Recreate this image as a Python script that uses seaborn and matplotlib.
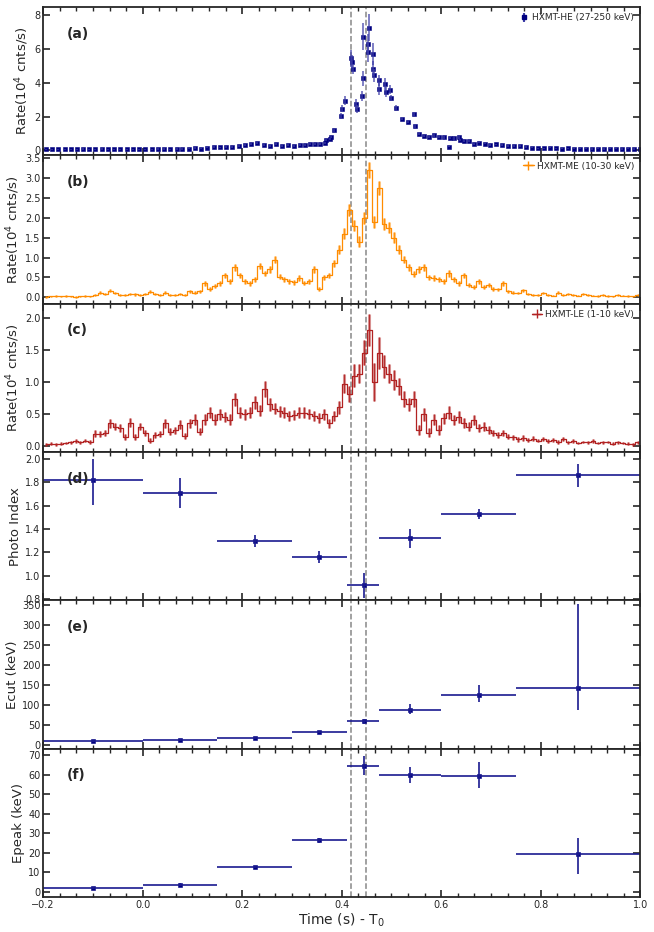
import matplotlib
matplotlib.use("Agg")
import matplotlib.pyplot as plt
import numpy as np
import pandas as pd
import seaborn as sns
from matplotlib.ticker import AutoMinorLocator, MultipleLocator

# ---- HXMT-HE (27-250 keV), points with errors ----
he_t = [-0.195, -0.182, -0.170, -0.157, -0.145, -0.132, -0.120, -0.107, -0.095, -0.082,
        -0.070, -0.057, -0.045, -0.032, -0.020, -0.007, 0.005, 0.018, 0.030, 0.043,
        0.055, 0.068, 0.080, 0.093, 0.105, 0.118, 0.130, 0.143, 0.155, 0.168,
        0.180, 0.193, 0.205, 0.218, 0.230, 0.243, 0.255, 0.268, 0.280, 0.293,
        0.305, 0.317, 0.327, 0.337, 0.347, 0.357, 0.366, 0.368, 0.376, 0.378,
        0.384, 0.399, 0.401, 0.407, 0.418, 0.420, 0.422, 0.429, 0.431, 0.440,
        0.442, 0.443, 0.452, 0.453, 0.454, 0.462, 0.463, 0.464, 0.474, 0.475,
        0.486, 0.488, 0.498, 0.499, 0.509, 0.521, 0.534, 0.545, 0.548, 0.555,
        0.566, 0.575, 0.585, 0.595, 0.605, 0.615, 0.617, 0.625, 0.635, 0.637,
        0.645, 0.655, 0.665, 0.675, 0.687, 0.699, 0.711, 0.723, 0.735, 0.747,
        0.759, 0.771, 0.783, 0.795, 0.807, 0.819, 0.831, 0.843, 0.855, 0.867,
        0.879, 0.891, 0.903, 0.915, 0.927, 0.939, 0.951, 0.963, 0.975, 0.987, 0.999]
he_rate = [0.05, 0.05, 0.05, 0.05, 0.05, 0.06, 0.07, 0.06, 0.06, 0.07,
           0.06, 0.06, 0.05, 0.05, 0.06, 0.05, 0.05, 0.05, 0.07, 0.07,
           0.06, 0.07, 0.08, 0.10, 0.12, 0.10, 0.16, 0.18, 0.17, 0.20,
           0.20, 0.24, 0.30, 0.38, 0.42, 0.33, 0.28, 0.35, 0.25, 0.30,
           0.28, 0.30, 0.30, 0.38, 0.36, 0.40, 0.42, 0.60, 0.66, 0.78,
           1.18, 2.04, 2.46, 2.94, 5.46, 5.26, 4.80, 2.74, 2.46, 3.20,
           4.26, 6.74, 6.30, 5.84, 7.26, 5.70, 4.84, 4.44, 4.14, 3.64,
           3.94, 3.44, 3.60, 3.10, 2.52, 1.88, 1.68, 2.14, 1.44, 0.98,
           0.84, 0.80, 0.88, 0.80, 0.76, 0.22, 0.74, 0.70, 0.76, 0.58,
           0.56, 0.56, 0.36, 0.46, 0.40, 0.32, 0.35, 0.30, 0.25, 0.25,
           0.25, 0.20, 0.15, 0.12, 0.12, 0.15, 0.12, 0.10, 0.11, 0.10,
           0.09, 0.10, 0.08, 0.09, 0.08, 0.10, 0.09, 0.08, 0.09, 0.07, 0.08]
he_err = [0.04, 0.04, 0.04, 0.04, 0.04, 0.04, 0.04, 0.04, 0.04, 0.04,
          0.04, 0.04, 0.04, 0.04, 0.04, 0.04, 0.04, 0.04, 0.04, 0.04,
          0.04, 0.04, 0.05, 0.05, 0.05, 0.05, 0.05, 0.05, 0.05, 0.05,
          0.05, 0.06, 0.06, 0.06, 0.07, 0.06, 0.06, 0.06, 0.06, 0.06,
          0.06, 0.06, 0.06, 0.06, 0.06, 0.06, 0.06, 0.07, 0.08, 0.08,
          0.10, 0.15, 0.20, 0.25, 0.50, 0.40, 0.30, 0.30, 0.25, 0.30,
          0.45, 0.80, 0.60, 0.60, 0.80, 0.65, 0.45, 0.40, 0.35, 0.35,
          0.35, 0.30, 0.25, 0.20, 0.15, 0.10, 0.08, 0.12, 0.10, 0.08,
          0.07, 0.07, 0.07, 0.07, 0.07, 0.05, 0.07, 0.07, 0.07, 0.06,
          0.06, 0.06, 0.05, 0.05, 0.05, 0.05, 0.05, 0.05, 0.05, 0.05,
          0.05, 0.05, 0.04, 0.04, 0.04, 0.04, 0.04, 0.04, 0.04, 0.04,
          0.04, 0.04, 0.04, 0.04, 0.04, 0.04, 0.04, 0.04, 0.04, 0.04, 0.04]

# ---- HXMT-ME (10-30 keV) and HXMT-LE (1-10 keV), 0.01 s bins ----
lc_t = [round(-0.195 + 0.01 * i, 3) for i in range(120)]
me_rate = [0.01, 0.02, 0.03, 0.02, 0.03, 0.02, 0.01, 0.02, 0.03, 0.02,
           0.05, 0.12, 0.08, 0.17, 0.10, 0.06, 0.05, 0.08, 0.07, 0.05,
           0.08, 0.14, 0.09, 0.06, 0.12, 0.06, 0.05, 0.08, 0.06, 0.15,
           0.12, 0.15, 0.35, 0.20, 0.28, 0.35, 0.55, 0.40, 0.75, 0.55,
           0.40, 0.35, 0.45, 0.78, 0.60, 0.70, 0.95, 0.52, 0.45, 0.40,
           0.38, 0.48, 0.36, 0.40, 0.70, 0.22, 0.50, 0.55, 0.85, 1.20,
           1.60, 2.20, 1.80, 1.40, 2.00, 3.20, 1.90, 2.75, 1.85, 1.75,
           1.50, 1.20, 0.95, 0.75, 0.58, 0.70, 0.75, 0.50, 0.48, 0.45,
           0.40, 0.60, 0.45, 0.35, 0.55, 0.30, 0.25, 0.40, 0.25, 0.30,
           0.22, 0.20, 0.35, 0.15, 0.12, 0.10, 0.18, 0.08, 0.05, 0.06,
           0.10, 0.05, 0.04, 0.12, 0.05, 0.08, 0.06, 0.04, 0.08, 0.05,
           0.04, 0.03, 0.06, 0.03, 0.02, 0.05, 0.04, 0.03, 0.02, 0.06]
me_err = [0.02, 0.02, 0.02, 0.02, 0.02, 0.02, 0.02, 0.02, 0.02, 0.02,
          0.03, 0.04, 0.03, 0.04, 0.03, 0.03, 0.03, 0.03, 0.03, 0.03,
          0.03, 0.04, 0.03, 0.03, 0.04, 0.03, 0.03, 0.03, 0.03, 0.04,
          0.04, 0.04, 0.06, 0.05, 0.05, 0.06, 0.07, 0.06, 0.08, 0.07,
          0.06, 0.06, 0.07, 0.08, 0.07, 0.08, 0.09, 0.07, 0.07, 0.06,
          0.06, 0.07, 0.06, 0.06, 0.08, 0.05, 0.07, 0.07, 0.09, 0.11,
          0.13, 0.15, 0.14, 0.13, 0.15, 0.20, 0.15, 0.18, 0.15, 0.14,
          0.13, 0.11, 0.10, 0.09, 0.08, 0.08, 0.09, 0.07, 0.07, 0.07,
          0.06, 0.08, 0.07, 0.06, 0.07, 0.05, 0.05, 0.06, 0.05, 0.05,
          0.05, 0.04, 0.06, 0.04, 0.04, 0.03, 0.04, 0.03, 0.03, 0.03,
          0.03, 0.03, 0.02, 0.04, 0.03, 0.03, 0.03, 0.02, 0.03, 0.02,
          0.02, 0.02, 0.03, 0.02, 0.02, 0.02, 0.02, 0.02, 0.02, 0.03]
le_rate = [0.02, 0.03, 0.02, 0.03, 0.04, 0.05, 0.07, 0.05, 0.08, 0.06,
           0.19, 0.18, 0.20, 0.35, 0.30, 0.28, 0.14, 0.36, 0.14, 0.30,
           0.20, 0.08, 0.17, 0.18, 0.35, 0.22, 0.24, 0.33, 0.15, 0.35,
           0.41, 0.22, 0.41, 0.52, 0.41, 0.49, 0.45, 0.41, 0.73, 0.52,
           0.49, 0.52, 0.68, 0.55, 0.89, 0.65, 0.58, 0.54, 0.52, 0.46,
           0.48, 0.52, 0.52, 0.50, 0.47, 0.43, 0.49, 0.35, 0.46, 0.60,
           0.97, 0.81, 1.10, 1.13, 1.46, 1.82, 1.00, 1.46, 1.24, 1.13,
           1.03, 0.93, 0.73, 0.65, 0.73, 0.25, 0.49, 0.20, 0.41, 0.25,
           0.43, 0.52, 0.40, 0.45, 0.35, 0.30, 0.40, 0.28, 0.30, 0.25,
           0.20, 0.17, 0.20, 0.14, 0.13, 0.10, 0.12, 0.09, 0.11, 0.08,
           0.10, 0.07, 0.09, 0.06, 0.10, 0.05, 0.07, 0.04, 0.06, 0.05,
           0.07, 0.04, 0.05, 0.06, 0.03, 0.05, 0.04, 0.03, 0.02, 0.05]
le_err = [0.02, 0.02, 0.02, 0.02, 0.02, 0.03, 0.03, 0.03, 0.03, 0.03,
          0.05, 0.05, 0.05, 0.07, 0.06, 0.06, 0.05, 0.07, 0.05, 0.06,
          0.05, 0.04, 0.05, 0.05, 0.07, 0.06, 0.06, 0.07, 0.05, 0.07,
          0.08, 0.06, 0.08, 0.09, 0.08, 0.08, 0.08, 0.08, 0.10, 0.09,
          0.08, 0.09, 0.10, 0.09, 0.12, 0.10, 0.09, 0.09, 0.09, 0.08,
          0.08, 0.09, 0.09, 0.08, 0.08, 0.08, 0.08, 0.07, 0.08, 0.10,
          0.15, 0.12, 0.18, 0.15, 0.20, 0.25, 0.30, 0.25, 0.18, 0.15,
          0.15, 0.13, 0.12, 0.10, 0.12, 0.08, 0.10, 0.07, 0.09, 0.08,
          0.09, 0.10, 0.08, 0.09, 0.08, 0.07, 0.08, 0.06, 0.07, 0.06,
          0.05, 0.05, 0.05, 0.04, 0.04, 0.04, 0.04, 0.03, 0.04, 0.03,
          0.03, 0.03, 0.03, 0.03, 0.03, 0.02, 0.03, 0.02, 0.02, 0.02,
          0.03, 0.02, 0.02, 0.02, 0.02, 0.02, 0.02, 0.02, 0.02, 0.02]

# ---- time-resolved spectral fits ----
bin_lo = [-0.20, 0.00, 0.15, 0.30, 0.41, 0.475, 0.60, 0.75]
bin_hi = [0.00, 0.15, 0.30, 0.41, 0.475, 0.60, 0.75, 1.00]
bin_mid = [-0.10, 0.075, 0.225, 0.355, 0.445, 0.5375, 0.675, 0.875]
index_val = [1.82, 1.71, 1.30, 1.16, 0.92, 1.32, 1.53, 1.86]
index_up = [0.18, 0.13, 0.05, 0.05, 0.10, 0.08, 0.04, 0.10]
index_lo = [0.21, 0.13, 0.05, 0.05, 0.11, 0.08, 0.04, 0.10]
ecut_val = [10, 13, 18, 32, 60, 88, 126, 144]
ecut_up = [2, 2, 2, 3, 6, 14, 25, 210]
ecut_lo = [2, 2, 2, 3, 6, 10, 19, 55]
epeak_val = [1.8, 3.6, 12.6, 26.3, 64.7, 59.7, 59.2, 19.1]
epeak_up = [0.5, 0.6, 0.5, 1.3, 5.1, 4.1, 7.5, 8.2]
epeak_lo = [0.5, 0.6, 0.5, 1.2, 4.8, 3.8, 5.7, 10.2]

dash_t = [0.418, 0.448]

sns.set_style("ticks")
plt.rcParams["font.family"] = ["DejaVu Sans"]

navy = "#000080"
fig, axes = plt.subplots(6, 1, figsize=(6.54, 9.32), dpi=100, sharex=True)
fig.subplots_adjust(left=0.066, right=0.979, top=0.9925, bottom=0.0376, hspace=0)

# (a) HE
ax = axes[0]
ax.errorbar(he_t, he_rate, yerr=he_err, fmt="none", ecolor="#4040a8", elinewidth=1.1, alpha=0.85)
sns.scatterplot(x=he_t, y=he_rate, ax=ax, marker="s", s=10, color=navy, edgecolor=navy, linewidth=0.4)
ax.errorbar([], [], yerr=[], fmt="s", ms=3.2, color=navy, ecolor="#4040a8", label="HXMT-HE (27-250 keV)")
ax.set_ylim(-0.3, 8.5)
ax.yaxis.set_major_locator(MultipleLocator(2))

# (b) ME, (c) LE
for ax, rate, err, col, lab in [
    (axes[1], me_rate, me_err, "#ff8c00", "HXMT-ME (10-30 keV)"),
    (axes[2], le_rate, le_err, "#b22222", "HXMT-LE (1-10 keV)"),
]:
    df = pd.DataFrame({"t": lc_t, "rate": rate})
    sns.lineplot(data=df, x="t", y="rate", ax=ax, color=col, lw=0.9,
                 drawstyle="steps-mid", estimator=None, sort=True)
    ax.errorbar(lc_t, rate, yerr=err, fmt="none", ecolor=col, elinewidth=2.2, alpha=0.5)
    ax.errorbar(lc_t, rate, yerr=err, fmt="none", ecolor=col, elinewidth=0.7, alpha=0.9)
    ax.errorbar([], [], xerr=[], yerr=[], fmt="-", color=col, lw=1.0, elinewidth=1.0, label=lab)

axes[1].set_ylim(-0.16, 3.57)
axes[1].yaxis.set_major_locator(MultipleLocator(0.5))
axes[2].set_ylim(-0.1, 2.23)
axes[2].yaxis.set_major_locator(MultipleLocator(0.5))

# (d)-(f) spectral parameters
xerr = [np.subtract(bin_mid, bin_lo), np.subtract(bin_hi, bin_mid)]
for ax, val, lo, up in [
    (axes[3], index_val, index_lo, index_up),
    (axes[4], ecut_val, ecut_lo, ecut_up),
    (axes[5], epeak_val, epeak_lo, epeak_up),
]:
    ax.errorbar(bin_mid, val, xerr=xerr, yerr=[lo, up], fmt="none", ecolor="#1a1a90", elinewidth=1.2)
    sns.scatterplot(x=bin_mid, y=val, ax=ax, marker="s", s=10, color=navy, edgecolor=navy, linewidth=0.4)

axes[3].set_ylim(0.79, 2.06)
axes[3].yaxis.set_major_locator(MultipleLocator(0.2))
axes[4].set_ylim(-9, 363)
axes[4].yaxis.set_major_locator(MultipleLocator(50))
axes[5].set_ylim(-2.8, 73.5)
axes[5].yaxis.set_major_locator(MultipleLocator(10))

ylabels = ["Rate(10$^4$ cnts/s)", "Rate(10$^4$ cnts/s)", "Rate(10$^4$ cnts/s)",
           "Photo Index", "Ecut (keV)", "Epeak (keV)"]
tags = ["(a)", "(b)", "(c)", "(d)", "(e)", "(f)"]

for ax, yl, tag in zip(axes, ylabels, tags):
    for t in dash_t:
        ax.axvline(t, color="#888888", ls="--", lw=1.1, zorder=0)
    ax.set_ylabel(yl, fontsize=9.5, labelpad=2)
    ax.set_xlabel("")
    ax.text(0.04, 0.82, tag, transform=ax.transAxes, fontsize=10, fontweight="bold", va="center")
    ax.set_xlim(-0.2, 1.0)
    ax.xaxis.set_major_locator(MultipleLocator(0.2))
    ax.xaxis.set_minor_locator(AutoMinorLocator(6))
    ax.tick_params(axis="both", which="both", direction="in", top=True, right=True,
                   labelsize=7, pad=2)
    ax.tick_params(axis="both", which="major", length=5, width=1.2)
    ax.tick_params(axis="x", which="minor", length=3, width=1)
    for s in ax.spines.values():
        s.set_linewidth(1.3)

for ax in axes[:3]:
    ax.legend(loc="upper right", fontsize=6.5, frameon=False, handlelength=1.2,
              handletextpad=0.3, borderaxespad=0.3)

axes[5].set_xlabel("Time (s) - T$_0$", fontsize=10, labelpad=1)

fig.savefig("out.png", dpi=100)
